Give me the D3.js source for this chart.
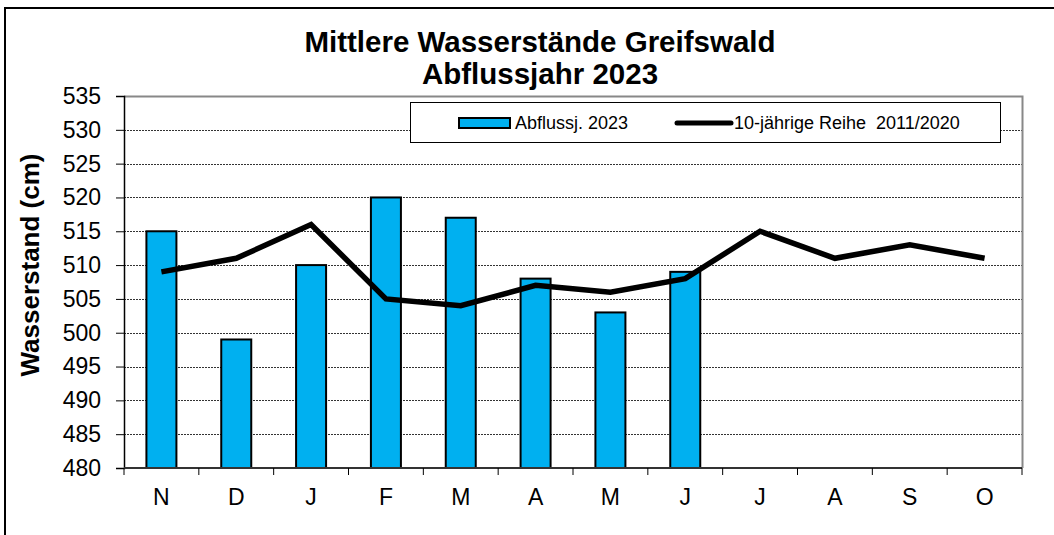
<!DOCTYPE html>
<html>
<head>
<meta charset="utf-8">
<script src="https://cdn.jsdelivr.net/npm/d3@7"></script>
<style>
  body { margin: 0; background: #fff; }
  text { font-family: Arial, "Liberation Sans", sans-serif; fill: #000; }
</style>
</head>
<body>
<div id="chart"></div>
<script>
// months of the hydrological year (Nov - Oct)
var months = ["N", "D", "J", "F", "M", "A", "M", "J", "J", "A", "S", "O"];
// Abflussjahr 2023 (only up to June)
var barValues = [515, 499, 510, 520, 517, 508, 503, 509];
// 10-jaehrige Reihe 2011/2020
var lineValues = [509, 511, 516, 505, 504, 507, 506, 508, 515, 511, 513, 511];
var yTicks = [480, 485, 490, 495, 500, 505, 510, 515, 520, 525, 530, 535];

var width = 1054, height = 535;
var margin = { top: 96, right: 32, bottom: 67, left: 124 };

var svg = d3.select("#chart").append("svg")
  .attr("width", width)
  .attr("height", height);

// outer chart border
svg.append("rect")
  .attr("x", 5).attr("y", 8)
  .attr("width", 1060).attr("height", 540)
  .attr("fill", "none")
  .attr("stroke", "#000")
  .attr("stroke-width", 2);

var x = d3.scaleBand()
  .domain(d3.range(months.length))
  .range([margin.left, width - margin.right])
  .paddingInner(0).paddingOuter(0);

var y = d3.scaleLinear()
  .domain([480, 535])
  .range([height - margin.bottom, margin.top]);

// gridlines
svg.append("g")
  .selectAll("line")
  .data(yTicks.slice(1, -1))
  .enter().append("line")
  .attr("x1", margin.left).attr("x2", width - margin.right)
  .attr("y1", d => Math.round(y(d)) + 0.5).attr("y2", d => Math.round(y(d)) + 0.5)
  .attr("stroke", "#333")
  .attr("stroke-width", 1)
  .attr("stroke-dasharray", "2,1");

// plot frame: top and right in gray
svg.append("path")
  .attr("d", `M${margin.left},${margin.top + 0.5}H${width - margin.right + 0.5}V${height - margin.bottom}`)
  .attr("fill", "none")
  .attr("stroke", "#888")
  .attr("stroke-width", 2);

// bars
var barW = 30;
svg.append("g")
  .selectAll("rect")
  .data(barValues)
  .enter().append("rect")
  .attr("x", (d, i) => x(i) + x.bandwidth() / 2 - barW / 2)
  .attr("y", d => y(d))
  .attr("width", barW)
  .attr("height", d => y(480) - y(d))
  .attr("fill", "#00B0F0")
  .attr("stroke", "#000")
  .attr("stroke-width", 2);

// y axis
var yAxis = svg.append("g")
  .attr("transform", `translate(${margin.left},0)`)
  .call(d3.axisLeft(y).tickValues(yTicks).tickSize(8).tickPadding(15).tickFormat(d3.format("d")));
yAxis.select(".domain").attr("stroke", "#000").attr("stroke-width", 1.5);
yAxis.selectAll(".tick line").attr("stroke", "#000");
yAxis.selectAll("text").style("font-size", "23px").attr("fill", "#000");

// x axis
var xTickPos = d3.range(months.length + 1).map(i => margin.left + i * x.step());
var xAxisG = svg.append("g").attr("transform", `translate(0,${height - margin.bottom})`);
xAxisG.append("line")
  .attr("x1", margin.left).attr("x2", width - margin.right)
  .attr("stroke", "#333").attr("stroke-width", 2);
xAxisG.selectAll(".xt")
  .data(xTickPos)
  .enter().append("line")
  .attr("x1", d => d).attr("x2", d => d)
  .attr("y1", 0).attr("y2", 7)
  .attr("stroke", "#000");
xAxisG.selectAll(".xl")
  .data(months)
  .enter().append("text")
  .attr("x", (d, i) => x(i) + x.bandwidth() / 2)
  .attr("y", 37)
  .attr("text-anchor", "middle")
  .style("font-size", "23px")
  .text(d => d);

// line series
var line = d3.line()
  .x((d, i) => x(i) + x.bandwidth() / 2)
  .y(d => y(d));
svg.append("path")
  .datum(lineValues)
  .attr("d", line)
  .attr("fill", "none")
  .attr("stroke", "#000")
  .attr("stroke-width", 5.5)
  .attr("stroke-linejoin", "miter");

// title
svg.append("text")
  .attr("x", 540).attr("y", 52)
  .attr("text-anchor", "middle")
  .style("font-size", "29.5px").style("font-weight", "bold")
  .text("Mittlere Wasserstände Greifswald");
svg.append("text")
  .attr("x", 540).attr("y", 84)
  .attr("text-anchor", "middle")
  .style("font-size", "29.5px").style("font-weight", "bold")
  .text("Abflussjahr 2023");

// y axis title
svg.append("text")
  .attr("transform", "translate(39,265) rotate(-90)")
  .attr("text-anchor", "middle")
  .style("font-size", "26px").style("font-weight", "bold")
  .text("Wasserstand (cm)");

// legend
var legend = svg.append("g");
legend.append("rect")
  .attr("x", 410.5).attr("y", 102.5)
  .attr("width", 590).attr("height", 40)
  .attr("fill", "#fff")
  .attr("stroke", "#000")
  .attr("stroke-width", 1);
legend.append("rect")
  .attr("x", 459).attr("y", 118)
  .attr("width", 51).attr("height", 10)
  .attr("fill", "#00B0F0")
  .attr("stroke", "#000")
  .attr("stroke-width", 2);
legend.append("text")
  .attr("x", 515).attr("y", 129)
  .style("font-size", "18px")
  .text("Abflussj. 2023");
legend.append("line")
  .attr("x1", 677).attr("x2", 731)
  .attr("y1", 123).attr("y2", 123)
  .attr("stroke", "#000")
  .attr("stroke-width", 5)
  .attr("stroke-linecap", "round");
legend.append("text")
  .attr("x", 734).attr("y", 129)
  .style("font-size", "18px")
  .style("white-space", "pre")
  .attr("xml:space", "preserve")
  .text("10-jährige Reihe  2011/2020");
</script>
</body>
</html>
